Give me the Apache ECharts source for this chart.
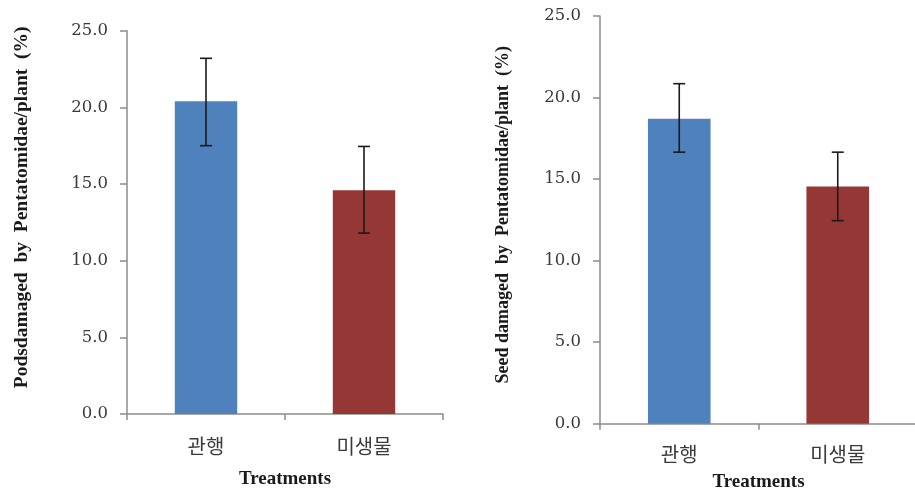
<!DOCTYPE html>
<html>
<head>
<meta charset="utf-8">
<script src="https://cdn.jsdelivr.net/npm/echarts@6/dist/echarts.min.js"></script>
<style>
  html, body { margin: 0; padding: 0; background: #fff; }
  #chart { width: 915px; height: 491px; }
</style>
</head>
<body>
<div id="chart"></div>
<script>
// Treatments compared in both panels
const categories = ['관행', '미생물'];
const barColors = ['#4F81BD', '#953735'];

// Pods damaged by Pentatomidae per plant (%): mean, lower and upper error limits
const podMeans = [20.4, 14.6];
const podLow = [17.5, 11.8];
const podHigh = [23.2, 17.45];

// Seed damaged by Pentatomidae per plant (%): mean, lower and upper error limits
const seedMeans = [18.7, 14.55];
const seedLow = [16.65, 12.45];
const seedHigh = [20.85, 16.65];

// Shared y-axis ticks
const yMin = 0, yMax = 25, yStep = 5;

const axisGrey = '#8c8c8c';
const textGrey = '#3a3a3a';
const serif = '"Liberation Serif", "Times New Roman", serif';
const tickSerif = '"DejaVu Serif", "Liberation Serif", serif';

function xAxisFor(gridIndex, labelMargin, titleGap) {
  return {
    type: 'category',
    gridIndex,
    data: categories,
    boundaryGap: true,
    axisLine: { lineStyle: { color: axisGrey, width: 1.5 } },
    axisTick: { show: true, length: 6, inside: false, lineStyle: { color: axisGrey, width: 1.5 } },
    axisLabel: { color: textGrey, fontSize: 20, fontFamily: '"Noto Sans CJK KR", sans-serif', margin: labelMargin },
    name: 'Treatments',
    nameLocation: 'middle',
    nameGap: titleGap,
    nameTextStyle: { color: '#1a1a1a', fontSize: 19, fontWeight: 'bold', fontFamily: serif }
  };
}

function yAxisFor(gridIndex, title, titleSize, gap, shift) {
  return {
    type: 'value',
    gridIndex,
    min: yMin,
    max: yMax,
    interval: yStep,
    splitLine: { show: false },
    axisLine: { show: true, lineStyle: { color: axisGrey, width: 1.5 } },
    axisTick: { show: true, length: 7, lineStyle: { color: axisGrey, width: 1.5 } },
    axisLabel: {
      color: textGrey, fontSize: 16.5, fontFamily: tickSerif, margin: 19,
      formatter: v => v.toFixed(1)
    },
    name: title,
    nameLocation: 'middle',
    nameGap: gap,
    nameRotate: 90,
    nameTextStyle: {
      color: '#1a1a1a', fontSize: titleSize, fontWeight: 'bold', fontFamily: serif,
      padding: [0, 0, 0, shift]
    }
  };
}

function barSeries(axisIndex, means) {
  return {
    type: 'bar',
    xAxisIndex: axisIndex,
    yAxisIndex: axisIndex,
    barWidth: '39.5%',
    data: means.map((v, i) => ({ value: v, itemStyle: { color: barColors[i] } })),
    z: 2
  };
}

function errorSeries(axisIndex, low, high) {
  return {
    type: 'custom',
    xAxisIndex: axisIndex,
    yAxisIndex: axisIndex,
    data: categories.map((c, i) => [i, low[i], high[i]]),
    z: 5,
    renderItem: function (params, api) {
      const x = api.value(0);
      const lo = api.coord([x, api.value(1)]);
      const hi = api.coord([x, api.value(2)]);
      const half = 6;
      const style = { stroke: '#1a1a1a', lineWidth: 1.6 };
      return {
        type: 'group',
        children: [
          { type: 'line', shape: { x1: hi[0], y1: hi[1], x2: lo[0], y2: lo[1] }, style },
          { type: 'line', shape: { x1: hi[0] - half, y1: hi[1], x2: hi[0] + half, y2: hi[1] }, style },
          { type: 'line', shape: { x1: lo[0] - half, y1: lo[1], x2: lo[0] + half, y2: lo[1] }, style }
        ]
      };
    }
  };
}

const chart = echarts.init(document.getElementById('chart'), null, { renderer: 'canvas' });
chart.setOption({
  backgroundColor: '#ffffff',
  animation: false,
  grid: [
    { left: 127, top: 30.7, width: 316, height: 383.3, containLabel: false, outerBoundsMode: 'none' },
    { left: 600, top: 16, width: 317, height: 407.7, containLabel: false, outerBoundsMode: 'none' }
  ],
  xAxis: [xAxisFor(0, 22, 56), xAxisFor(1, 21, 49)],
  yAxis: [
    yAxisFor(0, 'Podsdamaged  by  Pentatomidae/plant  (%)', 19.5, 95, 30),
    yAxisFor(1, 'Seed damaged  by  Pentatomidae/plant  (%)', 18, 88, 10)
  ],
  series: [
    barSeries(0, podMeans),
    errorSeries(0, podLow, podHigh),
    barSeries(1, seedMeans),
    errorSeries(1, seedLow, seedHigh)
  ]
});
</script>
</body>
</html>
